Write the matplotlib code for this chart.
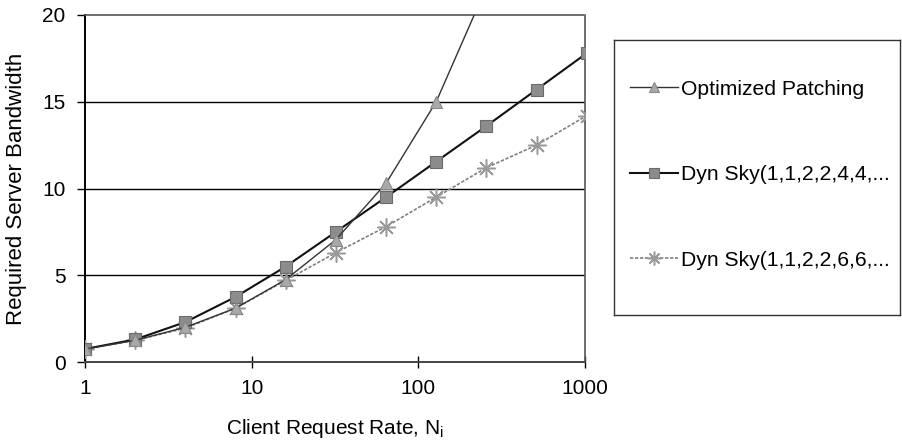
import matplotlib
matplotlib.use("Agg")
import matplotlib.pyplot as plt
from matplotlib.lines import Line2D
import numpy as np

plt.rcParams['font.family'] = ['Liberation Sans', 'DejaVu Sans']

# ---- data ----
rates = [1, 2, 4, 8, 16, 32, 64, 128, 256, 512, 1024]
opt_rates = [1, 2, 4, 8, 16, 32, 64, 128, 256]
opt_patching = [0.75, 1.25, 2.0, 3.1, 4.75, 7.05, 10.3, 15.0, 21.6]
dyn_sky_4 = [0.75, 1.3, 2.3, 3.75, 5.5, 7.5, 9.5, 11.55, 13.6, 15.7, 17.8]
dyn_sky_6 = [0.75, 1.25, 1.95, 3.1, 4.7, 6.3, 7.8, 9.5, 11.2, 12.5, 14.2]
labels = ["Optimized Patching", "Dyn Sky(1,1,2,2,4,4,...", "Dyn Sky(1,1,2,2,6,6,..."]
xticks = [1, 10, 100, 1000]
yticks = [0, 5, 10, 15, 20]

W, H = 902, 443
fig = plt.figure(figsize=(W / 100, H / 100), dpi=100)
L, R, T, B = 85, 585, 15, 362
ax = fig.add_axes([L / W, 1 - B / H, (R - L) / W, (B - T) / H])

ax.set_xscale('log')
ax.set_xlim(1, 1000)
ax.set_ylim(0, 20)

for y in [5, 10, 15]:
    ax.axhline(y, color='black', lw=1.0, zorder=1)

s_opt = dict(color='#333333', lw=1.0, marker='^', markersize=9,
             markerfacecolor='#a8a8a8', markeredgecolor='#888888', markeredgewidth=0.8)
s_d4 = dict(color='#111111', lw=1.5, marker='s', markersize=9,
            markerfacecolor='#8c8c8c', markeredgecolor='#6a6a6a', markeredgewidth=0.8)
s_d6 = dict(color='#808080', lw=1.2, ls=(0, (2, 1)), marker=(8, 2, 0), markersize=13,
            markeredgecolor='#9a9a9a', markeredgewidth=1.1)

ax.plot(rates, dyn_sky_6, zorder=3, **s_d6)
ax.plot(rates, dyn_sky_4, zorder=4, **s_d4)
ax.plot(opt_rates, opt_patching, zorder=5, **s_opt)

ax.set_xticks(xticks)
ax.set_xticklabels([str(v) for v in xticks])
ax.minorticks_off()
ax.set_yticks(yticks)
ax.tick_params(axis='y', direction='out', length=6, width=1, pad=8, labelsize=15)
ax.tick_params(axis='x', direction='inout', length=8, width=1, pad=8, labelsize=15)

for side in ['top', 'right']:
    ax.spines[side].set_linestyle((0, (1.5, 1)))
    ax.spines[side].set_color('#555555')
    ax.spines[side].set_linewidth(1.2)
ax.spines['bottom'].set_color('#444444')
ax.spines['bottom'].set_linewidth(1.4)
ax.spines['left'].set_color('black')
ax.spines['left'].set_linewidth(1.4)

ax.set_xlabel("Client Request Rate, N$_\\mathregular{i}$", fontsize=15, labelpad=14)
ax.set_ylabel("Required Server Bandwidth", fontsize=16, labelpad=11)

# ---- legend box ----
LL, LR, LT, LB = 614, 900, 40, 315
lax = fig.add_axes([LL / W, 1 - LB / H, (LR - LL) / W, (LB - LT) / H])
lax.set_xticks([])
lax.set_yticks([])
for sp in lax.spines.values():
    sp.set_color('#333333')
    sp.set_linewidth(1.0)

handles = [Line2D([], [], **{**s_opt, 'markersize': 7}),
           Line2D([], [], **{**s_d4, 'markersize': 7}),
           Line2D([], [], **{**s_d6, 'markersize': 10})]
leg = lax.legend(handles, labels, loc='center left', bbox_to_anchor=(0.025, 0.51),
                 frameon=False, fontsize=15.2, handlelength=2.3, handletextpad=0.15,
                 labelspacing=3.15, borderaxespad=0)

fig.savefig("out.png", dpi=100)
